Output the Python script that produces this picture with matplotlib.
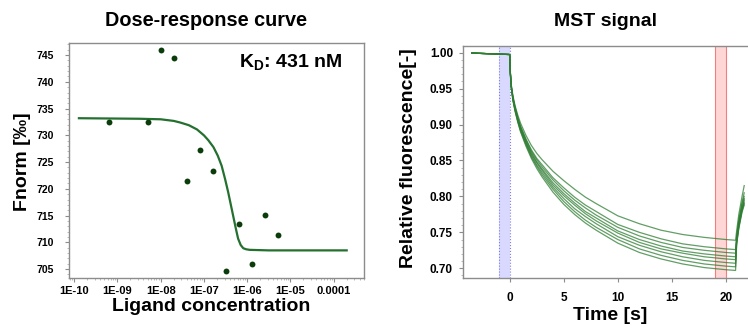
import matplotlib
matplotlib.use('Agg')
import numpy as np
import matplotlib.pyplot as plt
from matplotlib.ticker import MultipleLocator, FixedLocator, LogLocator, NullFormatter

plt.rcParams['font.family'] = ['Liberation Sans', 'DejaVu Sans']
plt.rcParams['font.weight'] = 'bold'
plt.rcParams['mathtext.fontset'] = 'custom'
plt.rcParams['mathtext.bf'] = 'Liberation Sans:bold'
plt.rcParams['mathtext.rm'] = 'Liberation Sans:bold'
plt.rcParams['mathtext.it'] = 'Liberation Sans:bold'

# ---- dose-response data
conc = [6.5e-10, 5e-9, 1e-8, 2e-8, 4e-8, 8e-8, 1.6e-7, 3.2e-7, 6.4e-7, 1.28e-6, 2.56e-6, 5.12e-6]
fnorm = [732.5, 732.5, 745.9, 744.5, 721.5, 727.3, 723.4, 704.6, 713.4, 706.0, 715.1, 711.4]

fit_logc = [-9.89, -8.5, -8.0, -7.7, -7.55, -7.35, -7.16, -7.0, -6.9, -6.78, -6.68, -6.59,
            -6.51, -6.44, -6.38, -6.32, -6.26, -6.21, -6.15, -6.09, -6.02, -5.94, -5.5, -3.70]
fit_fnorm = [733.2, 733.1, 733.0, 732.7, 732.4, 731.9, 731.1, 730.0, 729.1, 727.8, 726.2, 724.3,
             721.8, 719.4, 717.1, 714.8, 712.5, 710.7, 709.5, 708.9, 708.7, 708.6, 708.5, 708.5]

conc_ticks = [1e-10, 1e-9, 1e-8, 1e-7, 1e-6, 1e-5, 1e-4]
conc_labels = ['1E-10', '1E-09', '1E-08', '1E-07', '1E-06', '1E-05', '0.0001']

# ---- MST traces
t_s = [-3.5, -0.05, 0, 0.05, 0.15, 0.3, 0.5, 0.75, 1.0, 1.5, 2, 2.5, 3, 4, 5, 6, 7, 8,
       10, 12, 14, 16, 18, 20, 20.9, 21.0, 21.2, 21.5, 21.7]
trace1 = [0.9995, 0.9975, 0.9972, 0.975, 0.955, 0.940, 0.926, 0.913, 0.902, 0.885, 0.871, 0.860, 0.851,
          0.835, 0.822, 0.810, 0.799, 0.790, 0.773, 0.762, 0.753, 0.747, 0.743, 0.740, 0.739,
          0.752, 0.775, 0.800, 0.815]
trace2 = [0.9995, 0.9975, 0.9972, 0.974, 0.953, 0.938, 0.924, 0.910, 0.898, 0.880, 0.865, 0.853, 0.844,
          0.826, 0.812, 0.799, 0.788, 0.779, 0.761, 0.750, 0.741, 0.734, 0.730, 0.727, 0.726,
          0.745, 0.768, 0.792, 0.805]
trace3 = [0.9995, 0.9975, 0.9972, 0.974, 0.953, 0.937, 0.923, 0.909, 0.897, 0.879, 0.863, 0.851, 0.841,
          0.823, 0.808, 0.795, 0.784, 0.774, 0.757, 0.745, 0.736, 0.729, 0.725, 0.722, 0.721,
          0.742, 0.765, 0.790, 0.800]
trace4 = [0.9995, 0.9975, 0.9972, 0.973, 0.952, 0.936, 0.922, 0.907, 0.895, 0.877, 0.861, 0.848, 0.838,
          0.819, 0.804, 0.791, 0.779, 0.770, 0.752, 0.740, 0.731, 0.724, 0.720, 0.717, 0.716,
          0.740, 0.762, 0.785, 0.797]
trace5 = [0.9995, 0.9975, 0.9972, 0.973, 0.952, 0.935, 0.921, 0.907, 0.894, 0.875, 0.859, 0.847, 0.836,
          0.816, 0.801, 0.788, 0.776, 0.766, 0.749, 0.736, 0.727, 0.721, 0.716, 0.713, 0.712,
          0.738, 0.760, 0.783, 0.795]
trace6 = [0.9995, 0.9975, 0.9972, 0.973, 0.951, 0.935, 0.920, 0.905, 0.893, 0.874, 0.857, 0.844, 0.833,
          0.813, 0.797, 0.783, 0.772, 0.762, 0.744, 0.732, 0.723, 0.716, 0.711, 0.708, 0.707,
          0.736, 0.758, 0.782, 0.792]
trace7 = [0.9995, 0.9975, 0.9972, 0.972, 0.951, 0.934, 0.919, 0.904, 0.891, 0.872, 0.855, 0.842, 0.830,
          0.810, 0.793, 0.779, 0.767, 0.757, 0.740, 0.727, 0.718, 0.711, 0.706, 0.703, 0.702,
          0.735, 0.757, 0.780, 0.790]
trace8 = [0.9995, 0.9975, 0.9972, 0.972, 0.950, 0.933, 0.918, 0.903, 0.890, 0.870, 0.853, 0.839, 0.827,
          0.806, 0.789, 0.775, 0.763, 0.753, 0.735, 0.722, 0.713, 0.706, 0.701, 0.698, 0.697,
          0.733, 0.755, 0.778, 0.788]
traces = [trace1, trace2, trace3, trace4, trace5, trace6, trace7, trace8]

cold_window = (-1, 0)
hot_window = (19, 20)

spine_col = '#8c8c8c'
fig = plt.figure(figsize=(7.48, 3.29), dpi=100)

# ---------------- left: dose-response
ax1 = fig.add_axes([0.0922, 0.156, 0.3944, 0.714])
ax1.plot(np.power(10.0, fit_logc), fit_fnorm, color='#23702f', lw=1.6, zorder=2)
ax1.scatter(conc, fnorm, s=18, color='#0b3d0b', zorder=3, linewidths=0)
ax1.set_xscale('log')
ax1.set_xlim(10 ** -10.12, 10 ** -3.30)
ax1.set_ylim(703.4, 747.3)
ax1.xaxis.set_major_locator(FixedLocator(conc_ticks))
ax1.set_xticklabels(conc_labels)
ax1.xaxis.set_minor_locator(LogLocator(base=10, subs=np.arange(2, 10)))
ax1.xaxis.set_minor_formatter(NullFormatter())
ax1.yaxis.set_major_locator(MultipleLocator(5))
ax1.yaxis.set_minor_locator(MultipleLocator(1))
ax1.tick_params(axis='both', which='major', length=3, width=0.8, color=spine_col)
ax1.tick_params(axis='both', which='minor', length=1.5, width=0.6, color='#b0b0b0')
ax1.tick_params(axis='y', which='major', pad=8, labelsize=7.5)
ax1.tick_params(axis='x', which='major', pad=3, labelsize=8)
for s in ax1.spines.values():
    s.set_color(spine_col)
    s.set_linewidth(1.0)
ax1.text(239 / 748, 1 - 62 / 329, r'$\mathbf{K_D}$: 431 nM', transform=fig.transFigure,
         fontsize=14, fontweight='bold', va='center', ha='left')

fig.text(0.275, 0.939, 'Dose-response curve', fontsize=14.3, fontweight='bold', ha='center', va='center')
fig.text(0.282, 0.067, 'Ligand concentration', fontsize=14, fontweight='bold', ha='center', va='center')
fig.text(0.030, 0.508, 'Fnorm [‰]', fontsize=14, fontweight='bold', ha='center', va='center', rotation=90)

# ---------------- right: MST traces
ax2 = fig.add_axes([0.6186, 0.154, 0.385, 0.707])
ax2.axvspan(*cold_window, facecolor='#d9d9ff', edgecolor='none', zorder=0)
ax2.axvspan(*hot_window, facecolor='#ffd6d6', edgecolor='none', zorder=0)
for xv in cold_window:
    ax2.axvline(xv, color='#7f7fe6', lw=0.8, ls=':', zorder=1)
for xv in hot_window:
    ax2.axvline(xv, color='#f08080', lw=0.8, ls='-', zorder=1)
for tr in traces:
    ax2.plot(t_s, tr, color='#2e7d32', lw=0.9, alpha=0.75, zorder=2)
ax2.set_xlim(-4.35, 22.3)
ax2.set_ylim(0.686, 1.0097)
ax2.xaxis.set_major_locator(MultipleLocator(5))
ax2.yaxis.set_major_locator(MultipleLocator(0.05))
ax2.yaxis.set_minor_locator(MultipleLocator(0.01))
ax2.yaxis.set_major_formatter(matplotlib.ticker.FormatStrFormatter('%.2f'))
ax2.tick_params(axis='both', which='major', labelsize=8.5, length=3, width=0.8, color=spine_col)
ax2.tick_params(axis='y', which='minor', length=1.5, width=0.6, color='#b0b0b0')
ax2.tick_params(axis='y', which='major', pad=4)
ax2.tick_params(axis='x', which='major', pad=7)
for s in ax2.spines.values():
    s.set_color(spine_col)
    s.set_linewidth(1.0)
ax2.spines['right'].set_visible(False)

fig.text(0.81, 0.934, 'MST signal', fontsize=14, fontweight='bold', ha='center', va='center')
fig.text(0.8155, 0.040, 'Time [s]', fontsize=14, fontweight='bold', ha='center', va='center')
fig.text(0.546, 0.520, 'Relative fluorescence[-]', fontsize=14, fontweight='bold',
         ha='center', va='center', rotation=90)

fig.savefig('out.png', dpi=100)
